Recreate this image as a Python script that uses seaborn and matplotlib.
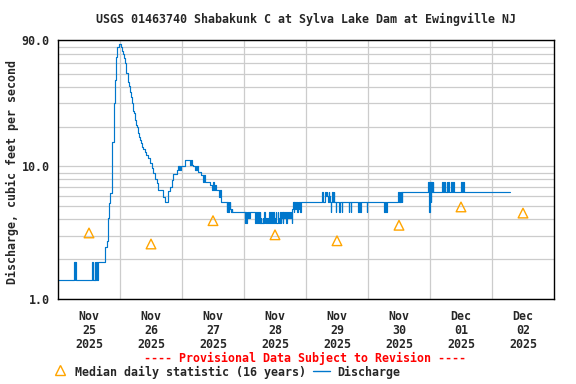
import matplotlib
matplotlib.use("Agg")
import matplotlib.pyplot as plt
import matplotlib.dates as mdates
from matplotlib.ticker import FixedLocator, FixedFormatter, NullFormatter
from matplotlib.lines import Line2D
import pandas as pd
import seaborn as sns

# ---------------- data ----------------
start = pd.Timestamp("2025-11-25 00:00")

# step breakpoints (hours after Nov 25 00:00, discharge cfs)
break_hours = [0.0, 6.25, 6.5, 6.75, 7.0, 13.25, 13.5, 14.25, 14.5, 14.75, 15.0, 15.5,
               18.25, 19.0, 19.5, 19.75, 20.25, 20.75, 21.0, 21.5, 21.75, 22.25, 22.5, 23.0, 23.5,
               24.25, 24.75, 25.0, 25.5, 25.75, 26.25, 26.5, 27.0, 27.5, 27.75, 28.25, 28.5, 29.0,
               29.25, 29.75, 30.0, 30.5, 31.0, 31.25, 31.75, 32.0, 32.5, 32.75, 33.5, 34.25, 35.0,
               35.5, 36.25, 36.75, 37.5, 38.25, 38.75, 40.75, 41.25, 42.75, 43.25, 44.0, 44.5, 46.0,
               46.5, 46.75, 47.0, 47.25, 47.5, 49.25, 51.0, 51.5, 51.75, 52.25, 53.0, 53.25, 53.5,
               53.75, 54.0, 54.25, 55.5, 56.25, 56.5, 56.75, 58.75, 59.5, 60.0, 60.25, 60.75, 61.0,
               62.5, 62.75, 63.0, 63.25, 65.25, 65.5, 65.75, 66.0, 66.25, 66.5, 66.75, 67.0, 67.25,
               67.5,
               94.25,
               108.25, 108.75, 109.0, 109.75, 110.0, 112.5, 112.75, 113.25, 113.5, 116.25, 116.5,
               117.0, 117.25, 119.5, 119.75, 126.25, 126.5, 127.0, 127.25,
               133.25,
               145.25, 148.75, 149.0, 149.25, 149.75, 150.5, 150.75, 151.0, 151.25, 152.0, 152.5,
               153.0, 153.25, 156.0, 156.5, 156.75, 157.25, 175.0]
break_cfs = [1.4, 1.9, 1.4, 1.9, 1.4, 1.9, 1.4, 1.9, 1.4, 1.9, 1.4, 1.9,
             2.45, 2.75, 4.05, 5.3, 6.3, 10.0, 15.4, 20.0, 30.0, 45.0, 67.0, 80.0, 84.0,
             80.0, 74.0, 70.6, 65.6, 60.0, 53.5, 50.5, 43.6, 40.5, 36.7, 33.7, 30.0, 26.0,
             25.2, 22.5, 20.6, 19.8, 17.8, 16.8, 15.9, 15.0, 14.1, 13.5, 12.9, 12.2, 11.5,
             10.6, 9.7, 8.9, 8.1, 7.5, 6.6, 5.9, 5.4, 6.5, 7.0, 7.9, 8.8, 9.4,
             10.0, 9.4, 10.0, 9.4, 10.0, 11.2, 10.3, 11.2, 10.3, 10.0, 9.4, 10.0, 9.4,
             10.0, 9.4, 9.1, 8.6, 7.7, 8.6, 7.7, 7.25, 6.65, 7.7, 6.65, 7.25, 6.65,
             5.9, 6.65, 5.9, 5.4, 4.5, 5.4, 4.5, 5.4, 4.8, 5.4, 4.8, 4.5, 4.8,
             4.5,
             5.4,
             5.4, 4.5, 5.4, 4.5, 5.4, 4.5, 5.4, 4.5, 5.4, 4.5, 5.4,
             4.5, 5.4, 4.5, 5.4, 4.5, 5.4, 4.5, 5.4,
             6.45,
             6.45, 7.6, 6.45, 7.6, 6.45, 7.6, 6.45, 7.6, 6.45, 7.6, 6.45,
             7.6, 6.45, 7.6, 6.45, 7.6, 6.45, 6.45]

# 15-minute readings in the noisy stretches (start hour, values)
noise1_start = 72.25
noise1_cfs = [3.75, 4.5, 3.75, 4.5, 4.1,
              4.5, 4.5, 4.1, 4.5, 4.5, 4.5, 4.5, 4.5, 4.5, 4.5, 4.5,
              3.75, 4.5, 4.5, 3.75, 4.5, 4.5, 3.75, 4.5,
              3.75, 4.1, 3.75, 3.75, 4.1, 3.75, 4.5, 3.75, 4.1, 3.75, 3.75, 4.1, 3.75, 3.75, 4.5, 3.75,
              3.75, 4.5, 4.1, 3.75, 4.5, 3.75, 3.75, 4.1, 4.5, 3.75, 3.75, 4.5, 4.1, 3.75, 3.75, 4.5,
              3.75, 4.1, 4.5, 3.75,
              4.5, 4.1, 4.5, 4.5, 3.75, 4.5, 4.5, 4.1, 4.5, 4.5, 4.1, 4.5, 4.5, 3.75]
noise2_start = 90.75
noise2_cfs = [4.8, 5.4, 4.5, 5.4, 4.8, 5.4, 5.4, 4.5, 5.4, 4.8, 5.4, 5.4, 4.5, 5.4]
noise3_start = 102.0
noise3_cfs = [5.4, 6.45, 5.4, 5.4, 5.4, 6.0, 6.45, 6.0, 6.45, 6.0, 5.4, 6.45, 6.0, 5.4, 4.5,
              5.4, 5.4, 6.45, 5.4, 6.45, 5.4, 5.4, 4.5, 5.4, 5.4]
noise4_start = 131.75
noise4_cfs = [6.45, 5.4, 6.45, 5.4, 6.45, 5.4]
noise5_start = 143.25
noise5_cfs = [7.6, 6.45, 4.5, 7.6, 5.4, 7.6, 6.45, 7.6]

# median daily statistic (16 years), one per day
median_days = ["2025-11-25", "2025-11-26", "2025-11-27", "2025-11-28",
               "2025-11-29", "2025-11-30", "2025-12-01", "2025-12-02"]
median_cfs = [3.15, 2.6, 3.9, 3.05, 2.75, 3.6, 4.95, 4.45]

day_labels = ["Nov\n25\n2025", "Nov\n26\n2025", "Nov\n27\n2025", "Nov\n28\n2025",
              "Nov\n29\n2025", "Nov\n30\n2025", "Dec\n01\n2025", "Dec\n02\n2025"]

# ---------------- frames ----------------
hours = list(break_hours)
cfs = list(break_cfs)
for s, vals in [(noise1_start, noise1_cfs), (noise2_start, noise2_cfs), (noise3_start, noise3_cfs),
                (noise4_start, noise4_cfs), (noise5_start, noise5_cfs)]:
    for i, v in enumerate(vals):
        hours.append(s + 0.25 * i)
        cfs.append(v)
df = pd.DataFrame({"hours": hours, "cfs": cfs}).sort_values("hours")
df["time"] = start + pd.to_timedelta(df["hours"], unit="h")

med = pd.DataFrame({"time": pd.to_datetime(median_days) + pd.Timedelta(hours=12),
                    "cfs": median_cfs})

# ---------------- plot ----------------
sns.set_style("white")
plt.rcParams["font.family"] = ["DejaVu Sans Mono"]
plt.rcParams["font.weight"] = "bold"
FS = 8.4

fig = plt.figure(figsize=(5.76, 3.84), dpi=100)
ax = fig.add_axes([58 / 576, 1 - 299 / 384, (554 - 58) / 576, (299 - 40) / 384])

line_color = "#0077CC"
tri_color = "#FFA500"

sns.lineplot(data=df, x="time", y="cfs", ax=ax, color=line_color, lw=0.85,
             drawstyle="steps-post", estimator=None, sort=False, legend=False)
sns.scatterplot(data=med, x="time", y="cfs", ax=ax, marker="^", s=48, legend=False,
                color=tri_color, zorder=3)
pts = ax.collections[-1]
pts.set_facecolor("none")
pts.set_edgecolor(tri_color)
pts.set_linewidth(1.0)

ax.set_yscale("log")
ax.set_ylim(1, 90)
ax.set_xlim(start, start + pd.Timedelta(days=8))

ax.yaxis.set_major_locator(FixedLocator([1, 10, 90]))
ax.yaxis.set_major_formatter(FixedFormatter(["1.0", "10.0", "90.0"]))
ax.yaxis.set_minor_locator(FixedLocator([2, 3, 4, 5, 6, 7, 8, 9, 20, 30, 40, 50, 60, 70, 80]))
ax.yaxis.set_minor_formatter(NullFormatter())

noons = [mdates.date2num(start + pd.Timedelta(hours=12 + 24 * i)) for i in range(8)]
mids = [mdates.date2num(start + pd.Timedelta(days=i)) for i in range(1, 8)]
ax.xaxis.set_major_locator(FixedLocator(noons))
ax.xaxis.set_major_formatter(FixedFormatter(day_labels))
ax.xaxis.set_minor_locator(FixedLocator(mids))

grid_kw = dict(color="#CCCCCC", lw=0.9)
ax.grid(False)
ax.yaxis.grid(True, which="both", **grid_kw)
ax.xaxis.grid(True, which="minor", **grid_kw)
ax.xaxis.grid(False, which="major")
ax.set_axisbelow(True)

ax.tick_params(axis="both", which="both", length=0, labelsize=FS)
ax.tick_params(axis="y", pad=6)
ax.tick_params(axis="x", pad=8)
for lab in ax.get_xticklabels() + ax.get_yticklabels():
    lab.set_fontweight("bold")
    lab.set_linespacing(1.1)
ax.set_xlabel("")
ax.set_ylabel("")
for sp in ax.spines.values():
    sp.set_visible(True)
    sp.set_color("black")
    sp.set_linewidth(1.0)

fig.text(306 / 576, 1 - 19 / 384, "USGS 01463740 Shabakunk C at Sylva Lake Dam at Ewingville NJ",
         ha="center", va="center", fontsize=FS, fontweight="bold")
fig.text(12 / 576, 1 - 172 / 384, "Discharge, cubic feet per second", rotation=90,
         ha="center", va="center", fontsize=FS, fontweight="bold")
fig.text(305 / 576, 1 - 358 / 384, "---- Provisional Data Subject to Revision ----",
         ha="center", va="center", fontsize=FS, fontweight="bold", color="red")

# legend
ly = 1 - 372 / 384
fig.add_artist(Line2D([60 / 576], [ly + 0.004], marker="^", ms=7.5, mfc="none", mec=tri_color,
                      mew=1.0, ls="none", transform=fig.transFigure))
fig.text(75 / 576, ly, "Median daily statistic (16 years)", ha="left", va="center",
         fontsize=FS, fontweight="bold")
fig.add_artist(Line2D([313 / 576, 330 / 576], [ly + 0.003, ly + 0.003], color=line_color, lw=1.0,
                      transform=fig.transFigure))
fig.text(337 / 576, ly, "Discharge", ha="left", va="center", fontsize=FS, fontweight="bold")

fig.savefig("out.png", dpi=100)
